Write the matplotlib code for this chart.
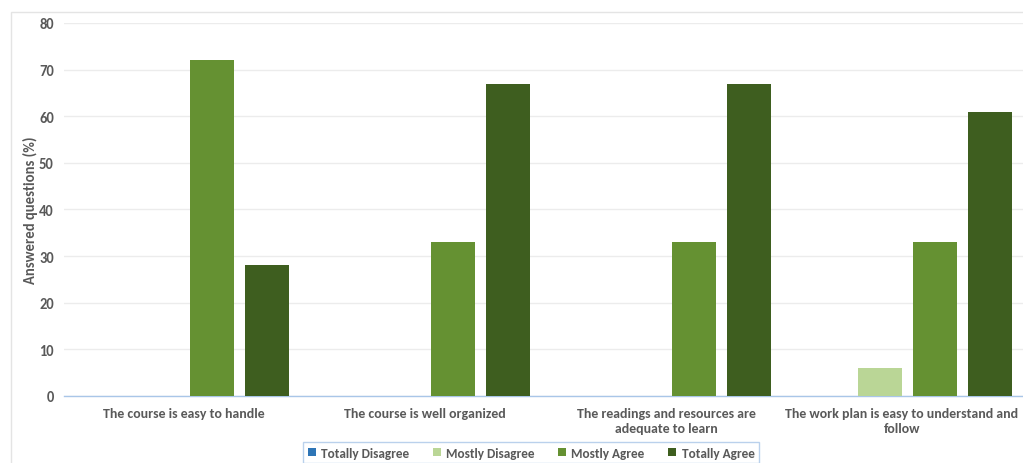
import matplotlib.pyplot as plt
import matplotlib.transforms as mtransforms
import numpy as np
from matplotlib.patches import Rectangle

questions = [
    "The course is easy to handle",
    "The course is well organized",
    "The readings and resources are\nadequate to learn",
    "The work plan is easy to understand and\nfollow",
]
answers = ["Totally Disagree", "Mostly Disagree", "Mostly Agree", "Totally Agree"]
totally_disagree = [0, 0, 0, 0]
mostly_disagree = [0, 0, 0, 6]
mostly_agree = [72, 33, 33, 33]
totally_agree = [28, 67, 67, 61]
colors = ["#2e75b6", "#bad696", "#659132", "#3e5e1f"]

plt.rcParams["font.family"] = ["Carlito", "Lato", "DejaVu Sans"]
text_color = "#595959"

fig = plt.figure(figsize=(10.23, 4.64), dpi=100)
# outer chart frame
fig.patches.append(Rectangle((11 / 1023, -0.1), 1.1, 1 - 13 / 464 + 0.1,
                             transform=fig.transFigure, fill=False,
                             edgecolor="#e4e4e4", linewidth=1.0))

ax = fig.add_axes([63.5 / 1023, 1 - 397 / 464, 964 / 1023, 373 / 464])

x = np.arange(len(questions))
slot = 55 / 241
width = 44 / 241
series = [totally_disagree, mostly_disagree, mostly_agree, totally_agree]
for i, (name, vals, c) in enumerate(zip(answers, series, colors)):
    offs = (i - 1.5) * slot
    ax.bar(x + offs, vals, width=width, color=c, label=name, zorder=3)

ax.set_xlim(-0.5, len(questions) - 0.5)
ax.set_ylim(0, 80)
ax.set_yticks(range(0, 81, 10))
ax.yaxis.grid(True, color="#ececec", linewidth=1.0, zorder=0)
for s in ["top", "right", "left"]:
    ax.spines[s].set_visible(False)
ax.spines["bottom"].set_color("#a9c6e8")
ax.spines["bottom"].set_linewidth(1.0)
ax.tick_params(axis="both", length=0, colors=text_color)
ax.tick_params(axis="y", pad=7)
ax.tick_params(axis="x", pad=8)
ax.set_xticks(x)
ax.set_xticklabels(questions, fontsize=10, fontweight="bold", color=text_color,
                   linespacing=1.3)
# nudge the last label so it stays inside the figure
last = ax.get_xticklabels()[-1]
last.set_transform(last.get_transform() +
                   mtransforms.ScaledTranslation(-5 / 100, 0, fig.dpi_scale_trans))
for lbl in ax.get_yticklabels():
    lbl.set_fontsize(10.5)
    lbl.set_fontweight("bold")
ax.set_ylabel("Answered questions (%)", fontsize=10.5, fontweight="bold",
              color=text_color, labelpad=1)

leg = fig.legend(loc="upper center", bbox_to_anchor=(531 / 1023, 1 - 443 / 464),
                 ncol=4, frameon=True, fancybox=False, fontsize=9.5,
                 handlelength=0.6, handleheight=0.6, handletextpad=0.4,
                 columnspacing=1.8, borderpad=0.35, borderaxespad=0)
leg.get_frame().set_edgecolor("#a9c6e8")
leg.get_frame().set_linewidth(1.0)
for t in leg.get_texts():
    t.set_color(text_color)
    t.set_fontweight("bold")

fig.savefig("out.png", dpi=100)
